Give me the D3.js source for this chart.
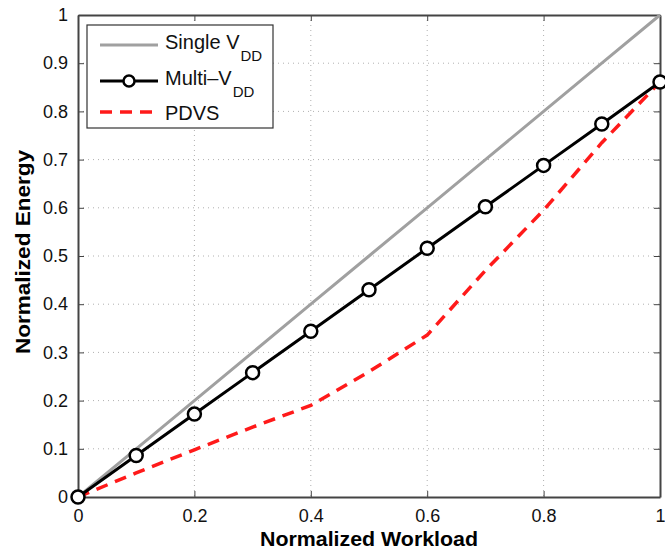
<!DOCTYPE html>
<meta charset="utf-8">
<style>

body {
  margin: 0;
  background: white;
}

text {
  font-family: "Liberation Sans", Arial, sans-serif;
}

.axis-title {
  font-size: 20px;
  font-weight: bold;
}

.grid line {
  stroke: #b0b0b0;
  stroke-width: 1;
  stroke-dasharray: 1,4;
}

</style>
<body>
<script src="https://cdn.jsdelivr.net/npm/d3@7"></script>
<script>

var workload = [0, 0.1, 0.2, 0.3, 0.4, 0.5, 0.6, 0.7, 0.8, 0.9, 1];
var single_vdd = [0, 0.1, 0.2, 0.3, 0.4, 0.5, 0.6, 0.7, 0.8, 0.9, 1];
var multi_vdd = [0, 0.086, 0.172, 0.258, 0.344, 0.430, 0.516, 0.602, 0.688, 0.774, 0.861];
var pdvs = [0, 0.05, 0.098, 0.145, 0.19, 0.26, 0.336, 0.47, 0.595, 0.735, 0.861];
var x_ticks = [0, 0.2, 0.4, 0.6, 0.8, 1];
var y_ticks = [0, 0.1, 0.2, 0.3, 0.4, 0.5, 0.6, 0.7, 0.8, 0.9, 1];

var width = 665,
    height = 550;

var plot_left = 78, plot_right = 660, plot_top = 15, plot_bottom = 497;

var x = d3.scaleLinear().domain([0, 1]).range([plot_left, plot_right]);
var y = d3.scaleLinear().domain([0, 1]).range([plot_bottom, plot_top]);

var svg = d3.select("body").append("svg")
    .attr("width", width)
    .attr("height", height);

// grid
var grid = svg.append("g").attr("class", "grid");
grid.selectAll("line.gx")
    .data(x_ticks.slice(1, -1))
  .enter().append("line")
    .attr("x1", function(d) { return x(d); })
    .attr("x2", function(d) { return x(d); })
    .attr("y1", plot_top)
    .attr("y2", plot_bottom);
grid.selectAll("line.gy")
    .data(y_ticks.slice(1, -1))
  .enter().append("line")
    .attr("y1", function(d) { return y(d); })
    .attr("y2", function(d) { return y(d); })
    .attr("x1", plot_left)
    .attr("x2", plot_right);

// axes, ticks pointing inward, on all four sides
function fmt(d) { return String(d); }

var xb = svg.append("g")
    .attr("transform", "translate(0," + plot_bottom + ")")
    .call(d3.axisBottom(x).tickValues(x_ticks).tickSizeInner(-6).tickSizeOuter(0).tickPadding(12).tickFormat(fmt));
var xt = svg.append("g")
    .attr("transform", "translate(0," + plot_top + ")")
    .call(d3.axisTop(x).tickValues(x_ticks).tickSizeInner(-6).tickSizeOuter(0).tickFormat(""));
var yl = svg.append("g")
    .attr("transform", "translate(" + plot_left + ",0)")
    .call(d3.axisLeft(y).tickValues(y_ticks).tickSizeInner(-6).tickSizeOuter(0).tickPadding(10).tickFormat(fmt));
var yr = svg.append("g")
    .attr("transform", "translate(" + plot_right + ",0)")
    .call(d3.axisRight(y).tickValues(y_ticks).tickSizeInner(-6).tickSizeOuter(0).tickFormat(""));

[xb, xt, yl, yr].forEach(function(a) {
  a.select(".domain").attr("stroke", "#444").attr("stroke-width", 2);
  a.selectAll(".tick line").attr("stroke", "#444").attr("stroke-width", 1);
  a.selectAll(".tick text")
      .attr("fill", "#111")
      .style("font-size", "18px")
      .style("font-family", "'Liberation Sans', Arial, sans-serif");
});

// series
var line = d3.line()
    .x(function(d) { return x(d[0]); })
    .y(function(d) { return y(d[1]); });

function pairs(vals) {
  return workload.map(function(w, i) { return [w, vals[i]]; });
}

svg.append("path")
    .datum(pairs(single_vdd))
    .attr("d", line)
    .attr("fill", "none")
    .attr("stroke", "#a0a0a0")
    .attr("stroke-width", 3);

svg.append("path")
    .datum(pairs(pdvs))
    .attr("d", line)
    .attr("fill", "none")
    .attr("stroke", "#ff1a1a")
    .attr("stroke-width", 3.5)
    .attr("stroke-dasharray", "12,8");

svg.append("path")
    .datum(pairs(multi_vdd))
    .attr("d", line)
    .attr("fill", "none")
    .attr("stroke", "black")
    .attr("stroke-width", 3);

svg.selectAll("circle.mk")
    .data(pairs(multi_vdd))
  .enter().append("circle")
    .attr("class", "mk")
    .attr("cx", function(d) { return x(d[0]); })
    .attr("cy", function(d) { return y(d[1]); })
    .attr("r", 6.5)
    .attr("fill", "white")
    .attr("stroke", "black")
    .attr("stroke-width", 2.5);

// axis titles
svg.append("text")
    .attr("class", "axis-title")
    .attr("x", (plot_left + plot_right) / 2)
    .attr("y", 546)
    .attr("text-anchor", "middle")
    .attr("textLength", 218)
    .attr("lengthAdjust", "spacingAndGlyphs")
    .text("Normalized Workload");

svg.append("text")
    .attr("class", "axis-title")
    .attr("transform", "translate(30,252) rotate(-90)")
    .attr("text-anchor", "middle")
    .attr("textLength", 204)
    .attr("lengthAdjust", "spacingAndGlyphs")
    .text("Normalized Energy");

// legend
var lg = svg.append("g");
lg.append("rect")
    .attr("x", 87).attr("y", 25)
    .attr("width", 186).attr("height", 103)
    .attr("fill", "white")
    .attr("stroke", "#333")
    .attr("stroke-width", 1.2);

var entries = [
  {name: "Single V", sub: "DD", color: "#a0a0a0", dash: null, marker: false, yy: 45},
  {name: "Multi\u2013V", sub: "DD", color: "black", dash: null, marker: true, yy: 81},
  {name: "PDVS", sub: "", color: "#ff1a1a", dash: "12,8", marker: false, yy: 112}
];

entries.forEach(function(e) {
  lg.append("line")
      .attr("x1", 100).attr("x2", 158)
      .attr("y1", e.yy).attr("y2", e.yy)
      .attr("stroke", e.color)
      .attr("stroke-width", e.dash ? 3.5 : 3)
      .attr("stroke-dasharray", e.dash);
  if (e.marker) {
    lg.append("circle")
        .attr("cx", 129).attr("cy", e.yy).attr("r", 5.5)
        .attr("fill", "white").attr("stroke", "black").attr("stroke-width", 2.5);
  }
  var t = lg.append("text")
      .attr("x", 165).attr("y", e.sub ? e.yy + 4 : e.yy + 8)
      .style("font-size", "20px")
      .attr("fill", "#111");
  t.append("tspan").text(e.name);
  if (e.sub) {
    t.append("tspan").attr("dx", 1).attr("dy", 12).style("font-size", "15px").text(e.sub);
  }
});

</script>
</body>
